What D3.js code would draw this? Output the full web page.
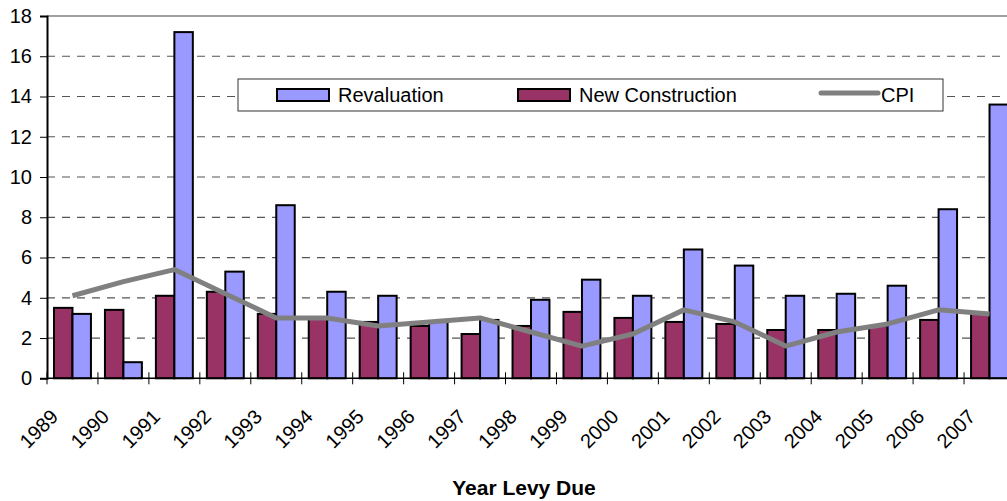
<!DOCTYPE html>
<html>
<head>
<meta charset="utf-8">
<script src="https://cdn.jsdelivr.net/npm/d3@7"></script>
<style>
  body { margin: 0; background: #fff; }
  svg { display: block; font-family: "Liberation Sans", Arial, sans-serif; }
</style>
</head>
<body>
<div id="chart"></div>
<script>
// data
const years = ["1989","1990","1991","1992","1993","1994","1995","1996","1997","1998",
               "1999","2000","2001","2002","2003","2004","2005","2006","2007"];
const newConstruction = [3.5,3.4,4.1,4.3,3.2,3.0,2.8,2.6,2.2,2.6,3.3,3.0,2.8,2.7,2.4,2.4,2.6,2.9,3.2];
const revaluation = [3.2,0.8,17.2,5.3,8.6,4.3,4.1,2.8,2.9,3.9,4.9,4.1,6.4,5.6,4.1,4.2,4.6,8.4,13.6];
const cpi = [4.1,4.8,5.4,4.2,3.0,3.0,2.6,2.8,3.0,2.3,1.6,2.2,3.4,2.8,1.6,2.3,2.7,3.4,3.2];
const yTicks = [0,2,4,6,8,10,12,14,16,18];
const seriesNames = ["New Construction","Revaluation"];

const W = 1007, H = 501;
const margin = {top: 16, left: 47, bottom: 378.3, right: 1015};

const svg = d3.select("#chart").append("svg")
  .attr("width", W).attr("height", H);

const x = d3.scaleBand().domain(years)
  .range([margin.left, margin.right])
  .paddingInner(0.275).paddingOuter(0.1375);
const x1 = d3.scaleBand().domain(seriesNames).range([0, x.bandwidth()]);
const xc = d => x(d) + x.bandwidth() / 2;
const y = d3.scaleLinear().domain([0, 18]).range([margin.bottom, margin.top]);

// gridlines
svg.append("g")
  .selectAll("line")
  .data(yTicks.filter(t => t > 0 && t < 18))
  .join("line")
  .attr("x1", margin.left).attr("x2", margin.right)
  .attr("y1", d => y(d)).attr("y2", d => y(d))
  .attr("stroke", "#555").attr("stroke-width", 1.2)
  .attr("stroke-dasharray", "8,7");

// plot area border (top shows)
svg.append("line")
  .attr("x1", margin.left).attr("x2", margin.right)
  .attr("y1", y(18)).attr("y2", y(18))
  .attr("stroke", "#808080").attr("stroke-width", 1.5);

// bars
const rows = years.map((yr, i) => ({year: yr, vals: [newConstruction[i], revaluation[i]]}));
const colors = {"New Construction": "#993366", "Revaluation": "#9999ff"};

svg.append("g")
  .selectAll("g")
  .data(rows)
  .join("g")
  .attr("transform", d => `translate(${x(d.year)},0)`)
  .selectAll("rect")
  .data(d => d.vals.map((v, j) => ({name: seriesNames[j], v: v})))
  .join("rect")
  .attr("x", d => x1(d.name))
  .attr("width", x1.bandwidth())
  .attr("y", d => y(d.v))
  .attr("height", d => y(0) - y(d.v))
  .attr("fill", d => colors[d.name])
  .attr("stroke", "#000").attr("stroke-width", 2);

// CPI line
const line = d3.line().x((d, i) => xc(years[i])).y(d => y(d));
svg.append("path")
  .datum(cpi)
  .attr("d", line)
  .attr("fill", "none")
  .attr("stroke", "#808080").attr("stroke-width", 5)
  .attr("stroke-linejoin", "round");

// y axis
const yAxis = svg.append("g")
  .attr("transform", `translate(${margin.left},0)`)
  .call(d3.axisLeft(y).tickValues(yTicks).tickSize(7).tickPadding(8));
yAxis.select(".domain").attr("stroke", "#000").attr("stroke-width", 2);
yAxis.selectAll(".tick line").attr("stroke", "#000");
yAxis.selectAll("text").attr("font-size", 20).attr("fill", "#000")
  .attr("font-family", "Liberation Sans, Arial, sans-serif");

// x axis
svg.append("line")
  .attr("x1", margin.left).attr("x2", margin.right)
  .attr("y1", y(0)).attr("y2", y(0))
  .attr("stroke", "#000").attr("stroke-width", 1.5);
const step = x.step();
svg.append("g")
  .selectAll("line")
  .data(d3.range(years.length + 1))
  .join("line")
  .attr("x1", i => margin.left + i * step).attr("x2", i => margin.left + i * step)
  .attr("y1", y(0) - 6).attr("y2", y(0) + 6)
  .attr("stroke", "#000").attr("stroke-width", 1);

svg.append("g")
  .selectAll("text")
  .data(years)
  .join("text")
  .attr("transform", d => `translate(${xc(d) - 13},418) rotate(-45)`)
  .attr("text-anchor", "end")
  .attr("font-size", 20)
  .text(d => d);

// axis title
svg.append("text")
  .attr("x", 524).attr("y", 495)
  .attr("text-anchor", "middle")
  .attr("font-size", 21).attr("font-weight", "bold")
  .text("Year Levy Due");

// legend
const lg = svg.append("g");
lg.append("rect")
  .attr("x", 238).attr("y", 79).attr("width", 705).attr("height", 32)
  .attr("fill", "#fff").attr("stroke", "#333").attr("stroke-width", 1);
const legendItems = [
  {name: "Revaluation", x: 277, type: "bar"},
  {name: "New Construction", x: 518, type: "bar"},
  {name: "CPI", x: 821, type: "line"}
];
legendItems.forEach(it => {
  if (it.type === "bar") {
    lg.append("rect")
      .attr("x", it.x).attr("y", 89).attr("width", 52).attr("height", 12)
      .attr("fill", colors[it.name]).attr("stroke", "#000").attr("stroke-width", 2);
  } else {
    lg.append("line")
      .attr("x1", it.x).attr("x2", it.x + 57).attr("y1", 93).attr("y2", 93)
      .attr("stroke", "#808080").attr("stroke-width", 5).attr("stroke-linecap", "round");
  }
  lg.append("text")
    .attr("x", it.x + (it.type === "bar" ? 61 : 60)).attr("y", 102)
    .attr("font-size", 20)
    .text(it.name);
});
</script>
</body>
</html>
